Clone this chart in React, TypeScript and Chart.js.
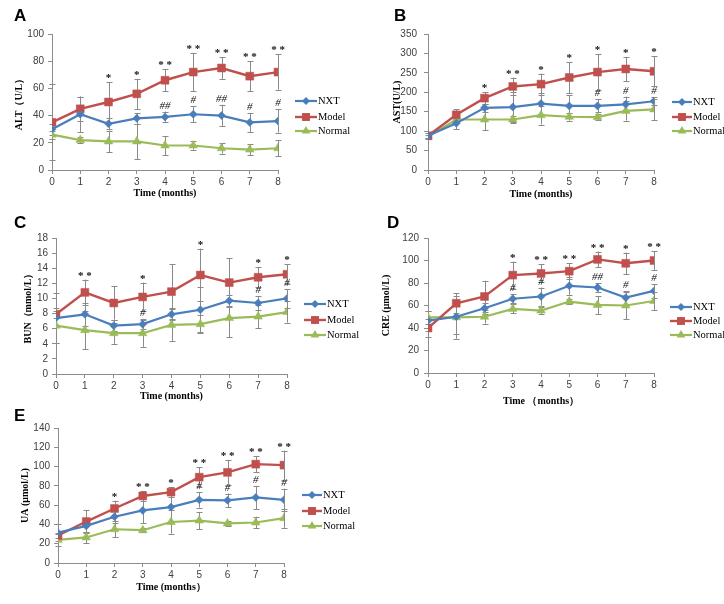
import React, { useEffect, useRef } from "react";
import { Chart, registerables } from "chart.js";

Chart.register(...registerables);

// ---------- data ----------
const months = [0, 1, 2, 3, 4, 5, 6, 7, 8];
const seriesNames = ["NXT", "Model", "Normal"];

// A: ALT (U/L)
const altNXT = [30, 41, 34, 38, 39, 41, 40, 35, 36];
const altModel = [35, 45, 50, 56, 66, 72, 75, 69, 72];
const altNormal = [26, 22, 21, 21, 18, 18, 16, 15, 16];
const altNXTsd = [4, 13, 4, 4, 4, 6, 8, 7, 8.5];
const altModelsd = [28, 9, 14.5, 11, 8, 14, 8, 11, 13];
const altNormalsd = [3, 2, 8, 13, 7, 3, 4, 4, 6];
const altStars = ["", "", "*", "*", "**", "**", "**", "**", "**"];
const altHashes = ["", "", "", "", "##", "#", "##", "#", "#"];

// B: AST (U/L)
const astNXT = [88, 120, 160, 162, 171, 165, 165, 169, 177];
const astModel = [88, 142, 185, 215, 221, 238, 252, 260, 254];
const astNormal = [86, 130, 130, 130, 141, 137, 136, 152, 156];
const astNXTsd = [6, 15, 10, 38, 26, 27, 17, 20, 10];
const astModelsd = [6, 15, 16, 23, 27, 40, 46, 31, 39];
const astNormalsd = [5, 8, 28, 8, 24, 10, 8, 25, 28];
const astStars = ["", "", "*", "**", "*", "*", "*", "*", "*"];
const astHashes = ["", "", "", "", "", "", "#", "#", "#"];

// C: BUN (mmol/L)
const bunNXT = [7.4, 7.9, 6.4, 6.6, 7.9, 8.5, 9.7, 9.4, 10.0];
const bunModel = [7.9, 10.8, 9.4, 10.2, 10.9, 13.1, 12.1, 12.8, 13.2];
const bunNormal = [6.4, 5.8, 5.4, 5.4, 6.5, 6.6, 7.4, 7.6, 8.2];
const bunNXTsd = [3.3, 1.5, 0.7, 0.7, 0.8, 3.0, 0.7, 0.9, 1.2];
const bunModelsd = [0.5, 1.7, 2.2, 1.9, 3.6, 3.5, 3.2, 1.3, 1.3];
const bunNormalsd = [2.3, 2.5, 1.4, 1.8, 2.1, 1.2, 2.5, 1.5, 1.4];
const bunStars = ["", "**", "", "*", "", "*", "", "*", "*"];
const bunHashes = ["", "", "", "#", "", "", "", "#", "#"];

// D: CRE (μmol/L)
const creNXT = [46.5, 50, 57.5, 66, 68, 77.5, 76, 67, 73];
const creModel = [40, 62, 68, 87, 88.5, 90.5, 101, 97.5, 100];
const creNormal = [49.5, 49.5, 50, 57, 55.5, 63.5, 60.5, 60, 64];
const creNXTsd = [9, 15, 5, 4, 8, 8, 4, 6, 6];
const creModelsd = [8, 9, 14, 12, 8, 7, 7, 9.5, 8.5];
const creNormalsd = [6, 19, 6, 4, 3, 2.5, 8, 12, 8];
const creStars = ["", "", "", "*", "**", "**", "**", "*", "**"];
const creHashes = ["", "", "", "#", "#", "", "##", "#", "#"];

// E: UA (μmol/L)
const uaNXT = [31.5, 38.5, 48, 54.5, 58, 65.5, 65, 68, 65.5];
const uaModel = [28.5, 43, 56.5, 69.5, 73.5, 89, 94, 102.5, 101.5];
const uaNormal = [24, 26.5, 35, 34, 42.5, 44, 41, 42, 46.5];
const uaNXTsd = [8.5, 6, 7, 13.5, 16, 8, 7, 12, 11.5];
const uaModelsd = [3, 12, 8, 5, 5, 10.5, 13, 8.5, 15];
const uaNormalsd = [6, 6, 8.5, 2, 12, 9, 3, 6, 10];
const uaStars = ["", "", "*", "**", "*", "**", "**", "**", "**"];
const uaHashes = ["", "", "", "", "", "#", "#", "#", "#"];

// ---------- styling ----------
const COLORS = ["#4A7EBB", "#C0504D", "#9BBB59"];
const STYLES = ["rectRot", "rect", "triangle"];
const RADII = [4, 5.6, 5];
const LINE_W = [2.2, 2.4, 2.2];
const SANS = "'Liberation Sans', Arial, sans-serif";
const SERIF = "'Liberation Serif', 'Times New Roman', serif";
const AXIS_GRAY = "#8c8c8c";
const ERR_GRAY = "#8a8a8a";

type Panel = {
  letter: string;
  letterX: number;
  letterY: number;
  yTitle: string;
  xTitle: string;
  yMax: number;
  yStep: number;
  area: { left: number; top: number; right: number; bottom: number };
  yTitleX: number;
  xTitleY: number;
  yTickPad: number;
  legend: { lineX: number; textX: number; rows: number[] };
  values: number[][];
  sds: number[][];
  stars: string[];
  hashes: string[];
};

const panels: Panel[] = [
  {
    letter: "A", letterX: 14, letterY: 21,
    yTitle: "ALT（U/L）", xTitle: "Time (months)", yMax: 100, yStep: 10,
    area: { left: 52, top: 34, right: 278, bottom: 170 },
    yTitleX: 19, xTitleY: 193, yTickPad: 4,
    legend: { lineX: 295, textX: 318, rows: [101, 117, 131] },
    values: [altNXT, altModel, altNormal], sds: [altNXTsd, altModelsd, altNormalsd],
    stars: altStars, hashes: altHashes,
  },
  {
    letter: "B", letterX: 394, letterY: 21,
    yTitle: "AST(U/L)", xTitle: "Time (months)", yMax: 350, yStep: 50,
    area: { left: 428, top: 34, right: 654, bottom: 170 },
    yTitleX: 397, xTitleY: 194, yTickPad: 7,
    legend: { lineX: 672, textX: 693, rows: [102, 117, 131] },
    values: [astNXT, astModel, astNormal], sds: [astNXTsd, astModelsd, astNormalsd],
    stars: astStars, hashes: astHashes,
  },
  {
    letter: "C", letterX: 14, letterY: 228,
    yTitle: "BUN（mmol/L）", xTitle: "Time (months)", yMax: 18, yStep: 2,
    area: { left: 56, top: 238, right: 287, bottom: 374 },
    yTitleX: 28, xTitleY: 396.5, yTickPad: 4,
    legend: { lineX: 304, textX: 327, rows: [304, 320, 335] },
    values: [bunNXT, bunModel, bunNormal], sds: [bunNXTsd, bunModelsd, bunNormalsd],
    stars: bunStars, hashes: bunHashes,
  },
  {
    letter: "D", letterX: 387, letterY: 228,
    yTitle: "CRE (μmol/L)", xTitle: "Time （months）", yMax: 120, yStep: 20,
    area: { left: 428, top: 238, right: 654, bottom: 373 },
    yTitleX: 386, xTitleY: 401, yTickPad: 5,
    legend: { lineX: 670, textX: 693, rows: [307, 321, 335] },
    values: [creNXT, creModel, creNormal], sds: [creNXTsd, creModelsd, creNormalsd],
    stars: creStars, hashes: creHashes,
  },
  {
    letter: "E", letterX: 14, letterY: 421,
    yTitle: "UA (μmol/L)", xTitle: "Time (months）", yMax: 140, yStep: 20,
    area: { left: 58, top: 428, right: 284, bottom: 563 },
    yTitleX: 25, xTitleY: 587.5, yTickPad: 4,
    legend: { lineX: 302, textX: 323, rows: [495, 511, 526] },
    values: [uaNXT, uaModel, uaNormal], sds: [uaNXTsd, uaModelsd, uaNormalsd],
    stars: uaStars, hashes: uaHashes,
  },
];

const W = 724;
const H = 604;
const TITLE_FS = 10;
const TITLE_LH = 1.2;

function drawMarker(ctx: CanvasRenderingContext2D, style: string, x: number, y: number, r: number) {
  ctx.beginPath();
  if (style === "rectRot") {
    ctx.moveTo(x, y - r);
    ctx.lineTo(x + r, y);
    ctx.lineTo(x, y + r);
    ctx.lineTo(x - r, y);
    ctx.closePath();
  } else if (style === "rect") {
    const s = r * Math.SQRT1_2;
    ctx.rect(x - s, y - s, 2 * s, 2 * s);
  } else {
    let a = 0;
    ctx.moveTo(x + Math.sin(a) * r, y - Math.cos(a) * r);
    a += (2 * Math.PI) / 3;
    ctx.lineTo(x + Math.sin(a) * r, y - Math.cos(a) * r);
    a += (2 * Math.PI) / 3;
    ctx.lineTo(x + Math.sin(a) * r, y - Math.cos(a) * r);
    ctx.closePath();
  }
  ctx.fill();
}

function makePlugin(p: Panel) {
  return {
    id: "panelDecor" + p.letter,
    beforeDatasetsDraw(chart: any) {
      const { ctx } = chart;
      const xs = chart.scales.x;
      const ys = chart.scales.y;
      ctx.save();
      ctx.strokeStyle = ERR_GRAY;
      ctx.lineWidth = 1;
      p.values.forEach((vals, si) => {
        const sd = p.sds[si];
        vals.forEach((v, i) => {
          const e = sd[i];
          if (!e) return;
          const x = Math.round(xs.getPixelForValue(months[i])) + 0.5;
          const y1 = ys.getPixelForValue(v + e);
          const y2 = ys.getPixelForValue(Math.max(0, v - e));
          ctx.beginPath();
          ctx.moveTo(x, y1);
          ctx.lineTo(x, y2);
          ctx.moveTo(x - 3, Math.round(y1) + 0.5);
          ctx.lineTo(x + 3, Math.round(y1) + 0.5);
          ctx.moveTo(x - 3, Math.round(y2) + 0.5);
          ctx.lineTo(x + 3, Math.round(y2) + 0.5);
          ctx.stroke();
        });
      });
      ctx.restore();
    },
    afterDatasetsDraw(chart: any) {
      const { ctx } = chart;
      const xs = chart.scales.x;
      const ys = chart.scales.y;
      ctx.save();
      ctx.fillStyle = "#111";
      ctx.textAlign = "center";
      ctx.textBaseline = "alphabetic";
      months.forEach((m, i) => {
        const x = xs.getPixelForValue(m);
        if (p.stars[i]) {
          const top = ys.getPixelForValue(p.values[1][i] + p.sds[1][i]);
          ctx.font = `bold 11px ${SERIF}`;
          ctx.fillText(p.stars[i].split("").join(" "), x, top - 1);
        }
        if (p.hashes[i]) {
          const top = ys.getPixelForValue(p.values[0][i] + p.sds[0][i]);
          ctx.font = `italic 11px ${SERIF}`;
          ctx.fillText(p.hashes[i], x, top - 3);
        }
      });
      ctx.restore();
    },
    afterDraw(chart: any) {
      const { ctx } = chart;
      ctx.save();
      // panel letter
      ctx.fillStyle = "#000";
      ctx.font = `bold 17px ${SANS}`;
      ctx.textAlign = "left";
      ctx.textBaseline = "alphabetic";
      ctx.fillText(p.letter, p.letterX, p.letterY);
      // legend
      const L = p.legend;
      seriesNames.forEach((name, si) => {
        const y = L.rows[si];
        ctx.strokeStyle = COLORS[si];
        ctx.lineWidth = LINE_W[si];
        ctx.beginPath();
        ctx.moveTo(L.lineX, y);
        ctx.lineTo(L.textX - 1, y);
        ctx.stroke();
        ctx.fillStyle = COLORS[si];
        drawMarker(ctx, STYLES[si], (L.lineX + L.textX - 1) / 2, y, RADII[si]);
        ctx.fillStyle = "#000";
        ctx.font = `10.5px ${SERIF}`;
        ctx.textBaseline = "middle";
        ctx.fillText(name, L.textX, y + 0.5);
      });
      ctx.restore();
    },
  };
}

function PanelChart({ p }: { p: Panel }) {
  const ref = useRef<HTMLCanvasElement | null>(null);
  useEffect(() => {
    if (!ref.current) return;
    const lh = TITLE_FS * TITLE_LH;
    const yScaleLeft = p.yTitleX - lh / 2;
    const yW = p.area.left - yScaleLeft;
    const xScaleBottom = p.xTitleY + lh / 2;
    const xH = xScaleBottom - p.area.bottom;
    const titleFont = { family: SERIF, size: TITLE_FS, weight: "bold" as const, lineHeight: TITLE_LH };
    const tickFont = { family: SANS, size: 10 };
    const chart = new Chart(ref.current, {
      type: "line",
      data: {
        datasets: seriesNames.map((name, si) => ({
          label: name,
          data: months.map((m, i) => ({ x: m, y: p.values[si][i] })),
          borderColor: COLORS[si],
          backgroundColor: COLORS[si],
          pointBackgroundColor: COLORS[si],
          pointBorderColor: COLORS[si],
          pointStyle: STYLES[si] as any,
          pointRadius: RADII[si],
          pointBorderWidth: 0.5,
          borderWidth: LINE_W[si],
          tension: 0,
          fill: false,
        })),
      },
      options: {
        responsive: false,
        animation: false,
        events: [],
        layout: {
          padding: {
            left: yScaleLeft,
            top: p.area.top,
            right: W - p.area.right,
            bottom: H - xScaleBottom,
          },
        },
        plugins: {
          legend: { display: false },
          tooltip: { enabled: false },
        },
        scales: {
          x: {
            type: "linear",
            min: 0,
            max: 8,
            ticks: { stepSize: 1, font: tickFont, color: "#404040", padding: 2, maxRotation: 0 },
            grid: { display: true, drawOnChartArea: false, drawTicks: true, tickLength: 4, color: AXIS_GRAY },
            border: { display: true, color: AXIS_GRAY, width: 1 },
            title: { display: true, text: p.xTitle, font: titleFont, color: "#000", padding: 0 },
            afterFit: (s: any) => {
              s.height = xH;
            },
          },
          y: {
            type: "linear",
            min: 0,
            max: p.yMax,
            ticks: { stepSize: p.yStep, font: tickFont, color: "#404040", padding: p.yTickPad },
            grid: { display: true, drawOnChartArea: false, drawTicks: true, tickLength: 4, color: AXIS_GRAY },
            border: { display: true, color: AXIS_GRAY, width: 1 },
            title: { display: true, text: p.yTitle, font: titleFont, color: "#000", padding: 0 },
            afterFit: (s: any) => {
              s.width = yW;
            },
          },
        },
      },
      plugins: [makePlugin(p)],
    });
    return () => chart.destroy();
  }, [p]);
  return (
    <canvas
      ref={ref}
      width={W}
      height={H}
      style={{ position: "absolute", left: 0, top: 0, width: W, height: H }}
    />
  );
}

export default function App() {
  return (
    <div style={{ position: "fixed", left: 0, top: 0, width: W, height: H, background: "#fff", overflow: "hidden" }}>
      {panels.map((p) => (
        <PanelChart key={p.letter} p={p} />
      ))}
    </div>
  );
}
